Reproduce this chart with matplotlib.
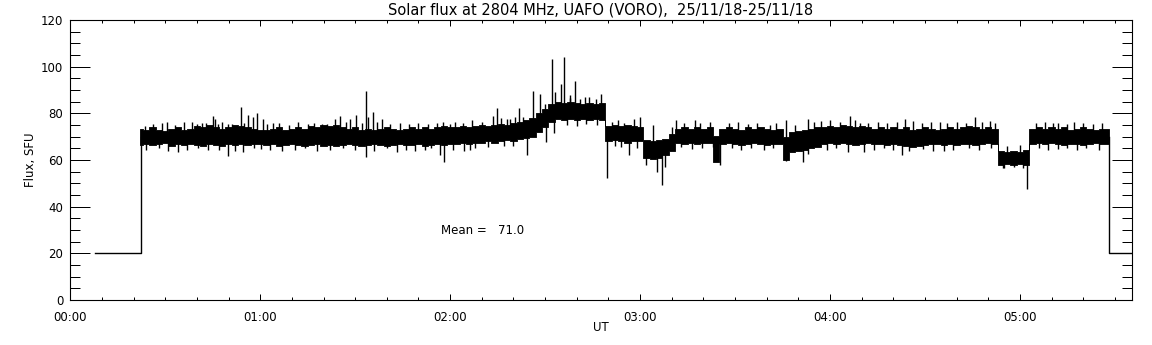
"""
Flujo solar a 2804 MHz (UAFO, VORO) del 25/11/18, estilo gráfico IDL.
Salida: out.png (1152x345)
"""

import matplotlib
matplotlib.use("Agg")
import matplotlib.pyplot as plt
import numpy as np
from matplotlib.ticker import FuncFormatter, MultipleLocator

# tiempo en minutos desde 00:00 UT
TITULO = "Solar flux at 2804 MHz, UAFO (VORO),  25/11/18-25/11/18"
MEDIA = 71.0

# banda densa de la señal, muestreada cada 2 minutos (22 ... 328)
banda_t = np.arange(22, 330, 2)
banda_hi = [
    73.5, 73, 74, 73, 72.5, 73.5, 74, 73, 73.5, 74.5,
    74, 75, 74, 73.5, 74, 75, 74.5, 74, 73.5, 73,
    73, 73.5, 74, 73, 73.5, 74, 73.5, 74.5, 74, 75,
    74.5, 75, 74, 73.5, 74, 73, 73.5, 73, 73.5, 74,
    73.5, 73, 73.5, 74, 73.5, 74, 73.5, 74, 74.5, 74,
    74, 74.5, 74, 74.5, 75, 74.5, 75, 75.5, 75, 76, 76.5, 77,
    78, 80, 82, 84,
    85, 84.5, 85, 84.5, 84, 84.5, 84, 84.5,
    74.5, 75, 74.5, 75, 74.5, 74,
    68.5, 68, 68.5, 69,
    71,
    73.5, 74, 73.5, 74, 73.5, 74,
    70.5,
    73.5, 74, 73.5, 73, 74, 73.5, 74, 73.5, 73, 73.5,
    70,
    72, 72.5, 73, 73.5, 74,
    74, 74.5, 74, 75, 74.5, 74, 74.5, 74, 73.5, 74,
    73.5, 74, 73.5, 74, 73, 73.5, 74, 73.5, 73, 73.5,
    74, 73.5, 74, 74.5, 74, 73.5, 74, 73.5,
    64, 63.5, 64, 63.5, 64.5,
    73.5, 74, 73.5, 74, 73.5, 74, 73, 73.5, 74, 73.5, 73, 73.5, 73.5,
]
banda_lo = [
    66.5, 67, 66.5, 67, 67.5, 66, 67, 66.5, 67, 66.5,
    66, 67, 66.5, 66, 67, 66.5, 67, 66.5, 67, 67,
    66.5, 67, 66, 66.5, 67, 66.5, 66, 66.5, 67, 66,
    66.5, 66, 66.5, 67, 66.5, 66, 66.5, 67, 66.5, 66,
    66.5, 67, 66.5, 66.5, 67, 66, 66.5, 67, 66.5, 67,
    67, 67.5, 67, 67.5, 67.5, 68, 67.5, 68, 68.5, 68, 69, 69.5,
    70, 72, 74, 76.5,
    77.5, 77, 77.5, 77, 77.5, 77, 77.5, 77,
    68, 68.5, 68, 67.5, 68, 68,
    61, 60.5, 61, 62,
    64,
    67.5, 67, 67.5, 67, 67.5, 67.5,
    59,
    67, 67.5, 67, 66.5, 67, 67.5, 67, 66.5, 67, 67,
    60,
    63.5, 64, 64.5, 65, 65.5,
    67, 67.5, 67, 67.5, 67, 66.5, 67, 67.5, 67, 67,
    66.5, 67, 66.5, 66, 65.5, 66, 66.5, 67, 67, 66.5,
    67, 66.5, 67, 67, 66.5, 67, 67.5, 67,
    58, 58.5, 58, 58.5, 58,
    67, 67.5, 67, 67.5, 67, 66.5, 67, 67, 66.5, 67, 67.5, 67, 67,
]

# picos aislados (minutos, SFU)
picos_t = [
    23.6, 30.6, 38.3, 41.5, 45.0, 45.7, 46.8, 49.8, 53.8, 56.3,
    57.7, 59.1, 60.9, 64.1, 79.4, 83.6, 85.2, 88.5, 90.2, 93.4,
    94.1, 95.7, 98.6, 104.1, 117.8, 121.5, 133.6, 134.7, 137.8, 140.4,
    141.7, 146.2, 148.5, 152.2, 153.1, 154.9, 156.0, 157.8, 159.4, 162.5,
    167.8, 179.9, 184.1, 191.5, 197.3, 220.9, 226.2, 233.1, 237.3, 246.2,
    249.4, 263.6, 266.2, 274.6, 285.7, 290.4, 310.4, 314.7,
    34.1, 43.6, 49.9, 54.6, 60.1, 93.4, 103.1, 112.0, 116.7, 118.0,
    126.2, 144.4, 150.2, 152.8, 169.6, 176.5, 182.0, 185.2, 186.8, 188.0,
    196.5, 205.2, 226.2, 231.5, 245.7, 250.7, 262.6, 269.4, 294.6, 302.2,
    312.0,
]
picos_v = [
    74.6, 76.1, 76.1, 75.7, 78.9, 77.7, 75.5, 75.5, 82.9, 79.3,
    78.6, 80.3, 77.4, 76.0, 75.3, 77.4, 78.9, 77.4, 79.3, 89.6,
    78.6, 80.7, 77.4, 75.9, 76.2, 76.2, 78.9, 82.1, 77.4, 78.6,
    82.1, 89.6, 88.1, 103.1, 89.3, 92.4, 104.3, 87.7, 93.9, 87.0,
    88.1, 78.6, 75.0, 77.1, 77.1, 75.0, 77.1, 77.4, 76.9, 78.9,
    75.7, 77.4, 76.6, 76.3, 78.3, 76.9, 75.7, 75.4,
    63.6, 64.3, 61.9, 63.6, 64.9, 61.4, 63.6, 64.3, 62.1, 59.3,
    64.3, 62.1, 67.9, 71.7, 52.4, 62.1, 57.9, 55.0, 49.3, 57.1,
    64.6, 57.9, 59.7, 59.3, 63.6, 63.6, 62.1, 64.9, 56.4, 47.4,
    64.9,
]

# flecos pequeños en los bordes de la banda (minutos, SFU)
flecos_t = [
    26, 29, 33, 36, 40, 43, 48, 51, 55, 62, 66, 69, 72, 75, 77, 81, 87, 92,
    97, 101, 107, 110, 113, 116, 120, 124, 127, 130, 136, 139, 143, 150,
    158, 161, 164, 166, 171, 173, 175, 178, 190, 194, 199, 202, 208, 211,
    214, 217, 223, 229, 235, 240, 243, 248, 252, 255, 258, 261, 269, 272,
    277, 280, 283, 288, 292, 296, 300, 305, 308, 312, 317, 320, 323, 326,
    24, 28, 31, 37, 40.5, 47, 52, 58, 63, 67, 71, 74, 78, 82, 86, 90, 96,
    100, 106, 109, 114, 121, 124.5, 128, 132, 137, 140, 157, 160, 163,
    166.5, 172, 174, 179, 193, 199.5, 203, 209, 212, 215, 219, 222, 233,
    239, 242, 254, 257, 260, 265, 272.5, 276, 279, 284, 287, 291, 295,
    298, 301, 306, 309, 315, 318, 321, 325,
]
flecos_v = [
    75.5, 76, 75, 76.5, 75.5, 76, 76.5, 75.5, 76, 75.5, 76, 75, 76.5, 75.5,
    76, 75.5, 76.5, 76, 76.5, 75.5, 75.5, 76, 75.5, 76, 75.5, 76, 77, 76.5,
    78, 77.5, 78.5, 84, 86.5, 86, 87, 86, 76.5, 77, 76, 77.5, 74, 76, 76,
    76.5, 76, 76.5, 75.5, 76, 76, 75, 76.5, 77, 76.5, 77, 76, 76.5, 76,
    76.5, 76, 76.5, 76, 76.5, 76, 76.5, 76, 66, 66.5, 76, 76.5, 76, 76.5,
    76, 75.5, 76,
    64.5, 65, 64, 64.5, 65, 64.5, 64, 65, 64.5, 64, 64.5, 65, 64, 64.5,
    65, 64.5, 64, 65, 64.5, 64, 65, 64.5, 64, 65, 65.5, 66, 66, 75, 74.5,
    75.5, 75, 66, 65.5, 65, 65.5, 65, 65.5, 65, 64.5, 65, 64.5, 65, 62.5,
    64.5, 65, 64.5, 65, 64.5, 64, 64, 64, 64.5, 65, 64.5, 65, 56.5, 57,
    56.5, 65, 64.5, 65, 64.5, 65, 64.5,
]

# tramos sin señal (nivel de 20 SFU) al inicio y al final
inicio_t = [7.9, 22.2, 22.2]
inicio_v = [20, 20, 70]
fin_t = [328.0, 328.0, 345.0]
fin_v = [70, 20, 20]

X_MAX = 335.3


def fmt_hora(x, pos):
    m = int(round(x))
    return f"{m // 60:02d}:{m % 60:02d}"


def main():
    fig = plt.figure(figsize=(11.52, 3.45), dpi=100)
    ax = fig.add_axes([0.061, 0.1304, 0.9214, 0.8116])

    hi = np.array(banda_hi)
    lo = np.array(banda_lo)
    ax.fill_between(banda_t, lo, hi, step="mid", color="black", lw=0.6)

    # picos y flecos salen del centro de la banda
    t_all = picos_t + flecos_t
    v_all = np.array(picos_v + flecos_v)
    medio = np.interp(t_all, banda_t, (lo + hi) / 2)
    ax.vlines(t_all, np.minimum(v_all, medio), np.maximum(v_all, medio),
              color="black", lw=1.0)

    ax.plot(inicio_t, inicio_v, color="black", lw=1.0)
    ax.plot(fin_t, fin_v, color="black", lw=1.0)

    ax.text(117.1, 30, f"Mean =   {MEDIA:.1f}", fontsize=8.5, va="center")

    ax.set_xlim(0, X_MAX)
    ax.set_ylim(0, 120)
    ax.xaxis.set_major_locator(MultipleLocator(60))
    ax.xaxis.set_minor_locator(MultipleLocator(10))
    ax.xaxis.set_major_formatter(FuncFormatter(fmt_hora))
    ax.yaxis.set_major_locator(MultipleLocator(20))
    ax.yaxis.set_minor_locator(MultipleLocator(5))

    ax.tick_params(which="both", direction="in", top=True, right=True,
                   width=0.72, labelsize=8.5)
    ax.tick_params(axis="x", which="major", length=4.2, pad=8)
    ax.tick_params(axis="x", which="minor", length=2.1)
    ax.tick_params(axis="y", which="major", length=14.4, pad=5)
    ax.tick_params(axis="y", which="minor", length=7.2)
    for s in ax.spines.values():
        s.set_linewidth(0.8)

    ax.set_xlabel("UT", fontsize=8.5, labelpad=-2)
    ax.set_ylabel("Flux, SFU", fontsize=8.5, labelpad=3)
    ax.set_title(TITULO, fontsize=10.5, pad=4)

    fig.savefig("out.png", dpi=100)
    plt.close(fig)


if __name__ == "__main__":
    main()
